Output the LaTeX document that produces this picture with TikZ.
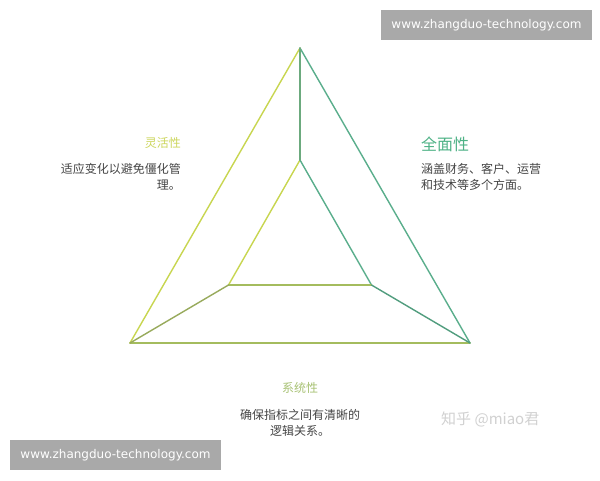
\documentclass[tikz,border=0pt]{standalone}
\usepackage{fontspec}
\setmainfont{DejaVu Sans}
\newfontfamily\cjk{Noto Sans CJK SC}
\newfontfamily\wmfont{DejaVu Sans}
\definecolor{cyel}{HTML}{C8D650}
\definecolor{cteal}{HTML}{5AAE8C}
\definecolor{colive}{HTML}{A4BC5E}
\definecolor{cconnL}{HTML}{98AA5C}
\definecolor{cvert}{HTML}{6CAA7E}
\definecolor{hyel}{HTML}{CCD65C}
\definecolor{hteal}{HTML}{4EB286}
\definecolor{holive}{HTML}{A8C274}
\definecolor{desc}{HTML}{454545}
\definecolor{wmgray}{HTML}{A9A9A9}
\tikzset{
  edge/.style={line width=1.4pt, line cap=round, line join=round},
  head/.style={font=\cjk\fontsize{12}{16}\selectfont},
  bighead/.style={font=\cjk\fontsize{16}{20}\selectfont},
  descr/.style={font=\cjk\fontsize{12}{16}\selectfont, text=desc, inner sep=0pt},
  wm/.style={fill=wmgray, text=white, font=\wmfont\fontsize{12}{14}\selectfont, inner sep=0pt},
}
\begin{document}
\begin{tikzpicture}[x=1pt,y=-1pt]
\useasboundingbox (0,0) rectangle (600,480);
\fill[white] (0,0) rectangle (600,480);
% vertices
\coordinate (OT) at (300,48);
\coordinate (OL) at (130,343);
\coordinate (OR) at (470,343);
\coordinate (IT) at (300,160);
\coordinate (IL) at (228.5,285);
\coordinate (IR) at (371.5,285);
% outer triangle
\draw[edge, cyel] (OT) -- (OL);
\draw[edge, cteal] (OT) -- (OR);
\draw[edge, colive] (OL) -- (OR);
% inner triangle
\draw[edge, cyel] (IT) -- (IL);
\draw[edge, cteal] (IT) -- (IR);
\draw[edge, colive] (IL) -- (IR);
% connectors
\draw[edge, cvert] (OT) -- (IT);
\draw[edge, cconnL] (OL) -- (IL);
\draw[edge, cteal!90!black] (OR) -- (IR);
% labels
\node[head, text=hyel, anchor=east, inner sep=0pt] (hL) at (181,143) {灵活性};
\node[descr, anchor=east, align=right] (dL) at (181,177) {适应变化以避免僵化管\\理。};
\node[bighead, text=hteal, anchor=west, inner sep=0pt] (hR) at (421,144) {全面性};
\node[descr, anchor=west, align=left] (dR) at (421,177) {涵盖财务、客户、运营\\和技术等多个方面。};
\node[head, text=holive, inner sep=0pt] (hB) at (300,388) {系统性};
\node[descr, align=center] (dB) at (300,423) {确保指标之间有清晰的\\逻辑关系。};
\node[font=\cjk\fontsize{15}{17}\selectfont, text=black!18, anchor=west, inner sep=0pt] (zh) at (441,419) {知乎 @miao君};
% watermarks
\node[wm, minimum width=211pt, minimum height=30pt] (wm1) at (486.5,25) {www.zhangduo-technology.com};
\node[wm, minimum width=211pt, minimum height=30pt] (wm2) at (115.5,455) {www.zhangduo-technology.com};
\end{tikzpicture}
\end{document}
